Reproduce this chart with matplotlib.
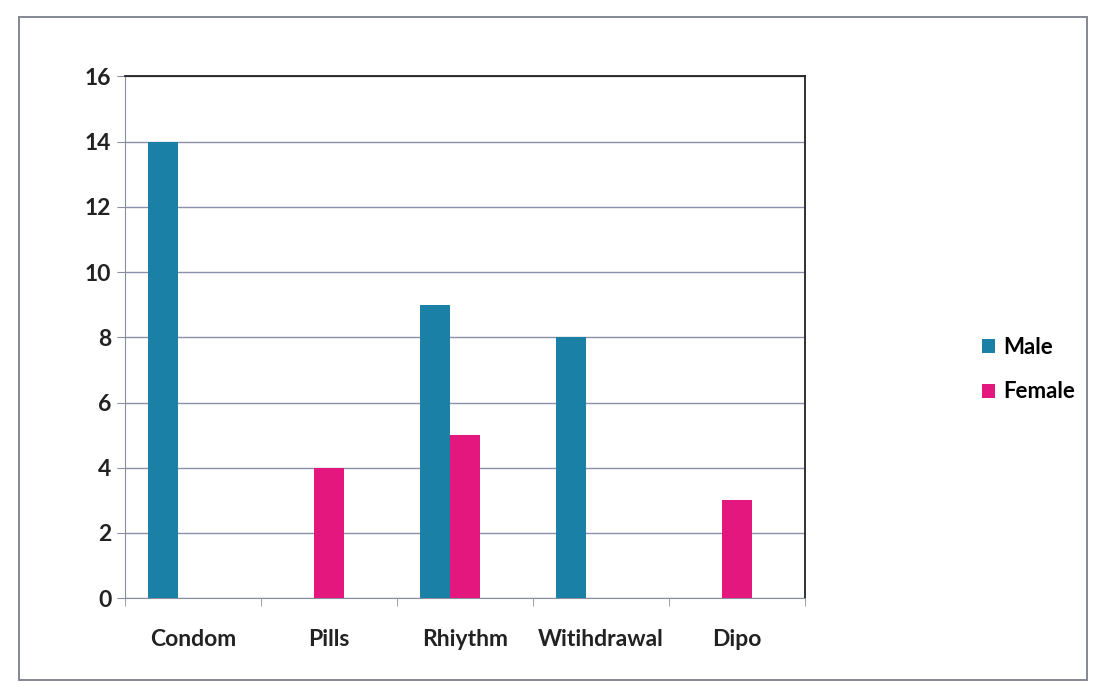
import numpy as np
import matplotlib.pyplot as plt
from matplotlib.patches import Rectangle

# data
methods = ['Condom', 'Pills', 'Rhiythm', 'Witihdrawal', 'Dipo']
male = [14, 0, 9, 8, 0]
female = [0, 4, 5, 0, 3]
yticks = [0, 2, 4, 6, 8, 10, 12, 14, 16]

plt.rcParams['font.family'] = ['Lato', 'DejaVu Sans']

fig = plt.figure(figsize=(10.98, 6.94), dpi=100)
ax = fig.add_axes([0.114, 0.138, 0.619, 0.752])

x = np.arange(len(methods))
w = 0.22
ax.bar(x - w, male, width=w, color='#1a80a6', label='Male', zorder=3)
ax.bar(x, female, width=w, color='#e3177d', label='Female', zorder=3)

ax.set_xlim(-0.5, len(methods) - 0.5)
ax.set_ylim(0, 16)
ax.set_yticks(yticks)
ax.set_xticks(np.arange(-0.5, len(methods), 1.0), minor=True)
ax.set_xticks(x)
ax.set_xticklabels(methods, fontsize=16.5, fontweight='bold', color='#222222')
ax.tick_params(axis='x', which='major', length=0, pad=22)
ax.tick_params(axis='x', which='minor', length=6, color='#8a8fa0', direction='out')
ax.tick_params(axis='y', length=6, color='#8a8fa0', labelsize=16.5, pad=4)
for lab in ax.get_yticklabels():
    lab.set_fontweight('bold')
    lab.set_color('#222222')

ax.grid(axis='y', color='#8a90a8', linewidth=1.0, zorder=0)
ax.spines['left'].set_color('#8a8fa0')
ax.spines['bottom'].set_color('#8a8fa0')
ax.spines['top'].set_color('#222222')
ax.spines['right'].set_color('#222222')
ax.spines['top'].set_linewidth(1.3)
ax.spines['right'].set_linewidth(1.3)

leg = fig.legend(loc='upper left', bbox_to_anchor=(0.876, 0.543), frameon=False,
                 handlelength=0.6, handleheight=0.6, handletextpad=0.35,
                 labelspacing=1.05, prop={'size': 16, 'weight': 'bold'})

# outer chart frame
fig.patches.append(Rectangle((0.017, 0.02), 0.973, 0.955, transform=fig.transFigure,
                             fill=False, edgecolor='#7a7f8a', linewidth=1.3))

fig.savefig('out.png', dpi=100)
